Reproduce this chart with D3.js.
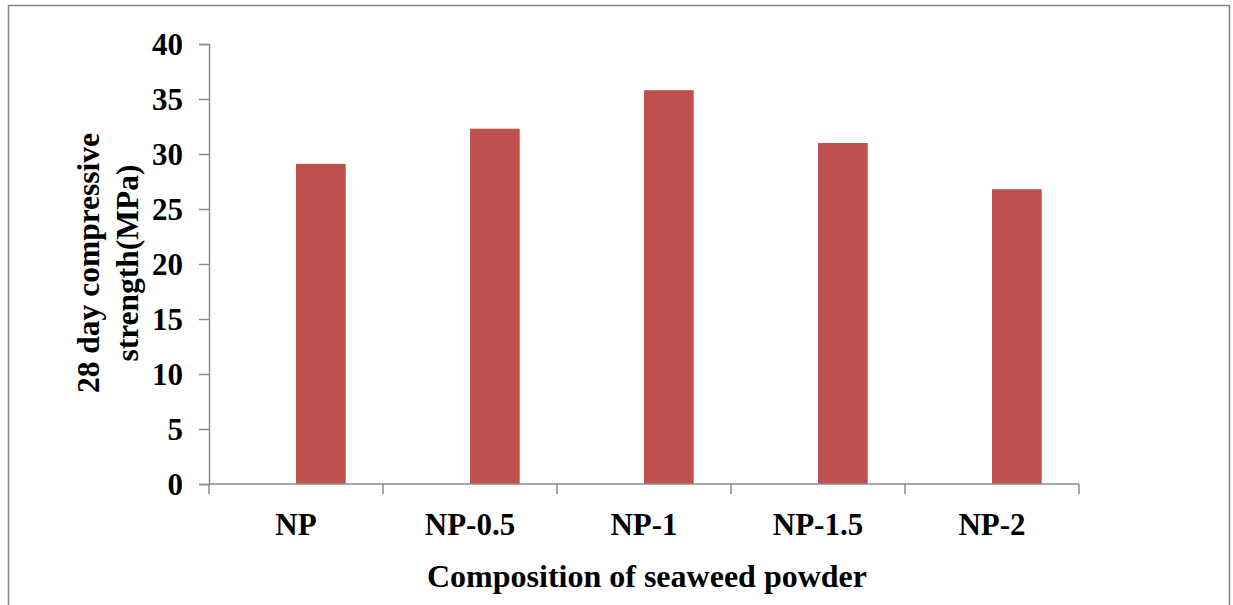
<!DOCTYPE html>
<html>
<head>
<meta charset="utf-8">
<script src="https://cdn.jsdelivr.net/npm/d3@7"></script>
<style>
  html, body { margin: 0; padding: 0; background: #fff; }
  svg { display: block; }
  text { font-family: "Liberation Serif", "Times New Roman", serif; font-weight: bold; fill: #000; }
</style>
</head>
<body>
<script>
// Compressive strength after 28 days for each seaweed powder mix
const categories = ["NP", "NP-0.5", "NP-1", "NP-1.5", "NP-2"];
const strengthValues = [29.1, 32.3, 35.8, 31.0, 26.8];
// Cluster slots: the first slot is left empty, the strength bar uses the second
const seriesSlots = ["(empty)", "28 day compressive strength"];
const yTicks = [0, 5, 10, 15, 20, 25, 30, 35, 40];

const W = 1233, H = 605;
const plot = { left: 209, right: 1079, top: 44, bottom: 484 };

const svg = d3.select("body").append("svg")
  .attr("width", W).attr("height", H);

// Outer frame
svg.append("path")
  .attr("d", `M8.5,${H} V5.5 H1229.5 V${H}`)
  .attr("fill", "none")
  .attr("stroke", "#858585")
  .attr("stroke-width", 1.5);

const x0 = d3.scaleBand().domain(categories)
  .range([plot.left, plot.right]).paddingInner(0).paddingOuter(0);
const x1 = d3.scaleBand().domain(seriesSlots)
  .range([0, x0.bandwidth()]).paddingInner(0).paddingOuter(0.75);
const y = d3.scaleLinear().domain([0, 40]).range([plot.bottom, plot.top]);

// Bars
svg.append("g").selectAll("rect")
  .data(categories.map((c, i) => ({ c, v: strengthValues[i] })))
  .join("rect")
  .attr("x", d => x0(d.c) + x1(seriesSlots[1]))
  .attr("y", d => y(d.v))
  .attr("width", x1.bandwidth())
  .attr("height", d => y(0) - y(d.v))
  .attr("fill", "#C0504D");

const axisColor = "#8c8c8c";

// Y axis
const yAxis = svg.append("g")
  .attr("transform", `translate(${plot.left},0)`)
  .call(d3.axisLeft(y).tickValues(yTicks).tickSize(10).tickPadding(16).tickFormat(d3.format("d")));
yAxis.select(".domain").attr("stroke", axisColor).attr("stroke-width", 1.5);
yAxis.selectAll(".tick line").attr("stroke", axisColor).attr("stroke-width", 1.5);
yAxis.selectAll(".tick text")
  .attr("font-size", 31)
  .attr("font-family", "Liberation Serif")
  .attr("dy", "0.34em");

// X axis: line with ticks at category boundaries
const xAxisG = svg.append("g").attr("transform", `translate(0,${plot.bottom})`);
xAxisG.append("line")
  .attr("x1", plot.left).attr("x2", plot.right)
  .attr("stroke", axisColor).attr("stroke-width", 1.5);
const boundaries = categories.map(c => x0(c)).concat([plot.right]);
xAxisG.selectAll("line.tk").data(boundaries).join("line")
  .attr("class", "tk")
  .attr("x1", d => d).attr("x2", d => d)
  .attr("y1", 0).attr("y2", 10)
  .attr("stroke", axisColor).attr("stroke-width", 1.5);
xAxisG.selectAll("text").data(categories).join("text")
  .attr("x", d => x0(d) + x0.bandwidth() / 2)
  .attr("y", 51)
  .attr("text-anchor", "middle")
  .attr("font-size", 31)
  .text(d => d);

// Axis titles
svg.append("text")
  .attr("x", (plot.left + plot.right) / 2 + 3)
  .attr("y", 587)
  .attr("text-anchor", "middle")
  .attr("font-size", 32)
  .text("Composition of seaweed powder");

const yTitle = svg.append("text")
  .attr("transform", "translate(98.5,263) rotate(-90)")
  .attr("text-anchor", "middle")
  .attr("font-size", 31.5);
yTitle.append("tspan").attr("x", 0).attr("y", 0).text("28 day compressive");
yTitle.append("tspan").attr("x", 0).attr("y", 39).text("strength(MPa)");
</script>
</body>
</html>
